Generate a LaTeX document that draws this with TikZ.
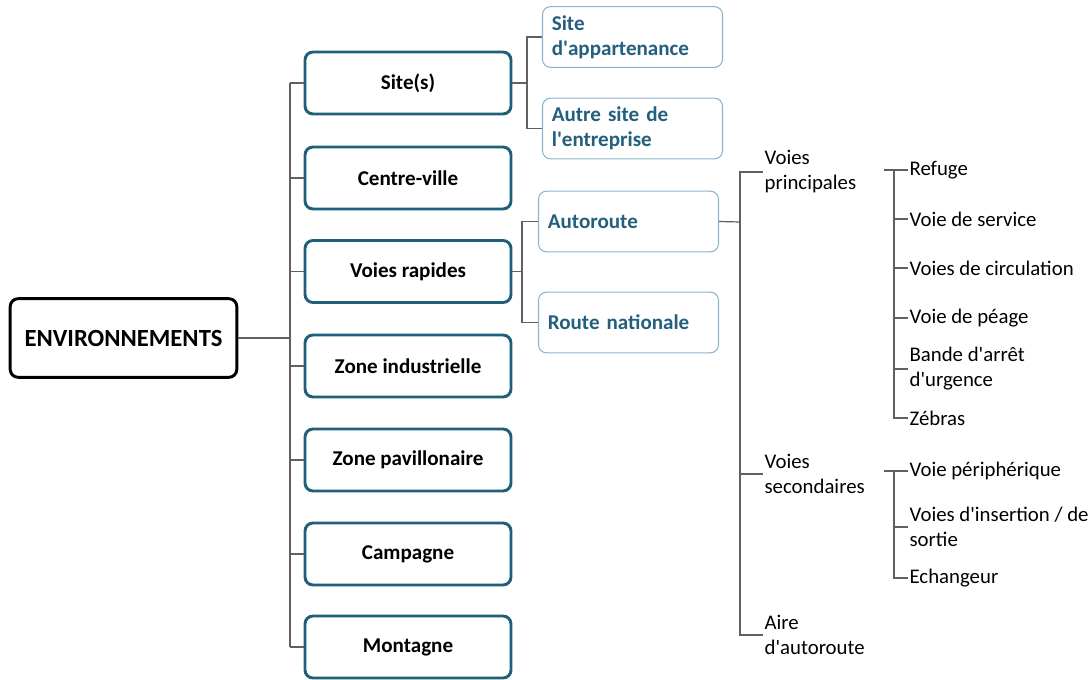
\documentclass[tikz,border=0pt]{standalone}
\usepackage{fontspec}
\setmainfont{Carlito}
\usetikzlibrary{calc}

\definecolor{teal1}{HTML}{1F5F7A}
\definecolor{teal2}{HTML}{8DB4C8}
\definecolor{txt2}{HTML}{24607E}
\definecolor{lin}{HTML}{606060}
\newcommand{\ap}{\textquotesingle}

\tikzset{
  envbox/.style={draw=black,line width=2.2pt,rounded corners=6pt,fill=white,
    minimum width=170pt,minimum height=59pt,font=\fontsize{18.5}{22}\selectfont\bfseries},
  lvlone/.style={draw=teal1,line width=2.2pt,rounded corners=6pt,fill=white,
    minimum width=154.5pt,minimum height=46.5pt,font=\fontsize{15.8}{19}\selectfont\bfseries},
  lvltwo/.style={draw=teal2,line width=0.8pt,rounded corners=6pt,fill=white,text=txt2,
    text width=121pt,inner xsep=7pt,minimum height=45.5pt,align=left,
    font=\fontsize{15.8}{18.75}\selectfont\bfseries},
  leaf/.style={anchor=west,align=left,inner sep=1pt,font=\fontsize{15.6}{18.75}\selectfont},
  cnx/.style={draw=lin,line width=0.9pt}
}

\begin{document}
\begin{tikzpicture}[x=0.75pt,y=-0.75pt]
 \useasboundingbox (0,0) rectangle (1092,680);
 % root and first level
 \node[envbox] (env) at (123.5,338) {ENVIRONNEMENTS};
 \node[lvlone] (site) at (408,83) {Site(s)};
 \node[lvlone] (ville) at (408,178) {Centre-ville};
 \node[lvlone] (rapid) at (408,271.5) {Voies rapides};
 \node[lvlone] (indus) at (408,366) {Zone industrielle};
 \node[lvlone] (pavil) at (408,460) {Zone pavillonaire};
 \node[lvlone] (camp) at (408,554) {Campagne};
 \node[lvlone] (mont) at (408,647) {Montagne};
 \coordinate (tr) at (290,338);
 \draw[cnx] (env.east) -- (env.east -| tr);
 \draw[cnx] (site.west -| tr) -- (mont.west -| tr);
 \foreach \n in {site,ville,rapid,indus,pavil,camp,mont}
   \draw[cnx] (\n.west) -- (\n.west -| tr);

 % second level
 \node[lvltwo] (appart) at (632.5,37) {Site\\d\ap appartenance};
 \node[lvltwo] (autre) at (632.5,128.5) {Autre site de\\l\ap entreprise};
 \node[lvltwo] (auto) at (628.5,221.5) {Autoroute};
 \node[lvltwo] (rn) at (628.5,322.5) {Route nationale};
 \coordinate (ts) at (527,83);
 \coordinate (tv) at (522,271);
 \draw[cnx] (site.east) -- (site.east -| ts);
 \draw[cnx] (appart.west) -| (ts) |- (autre.west);
 \draw[cnx] (rapid.east) -- (rapid.east -| tv);
 \draw[cnx] (auto.west) -| (tv) |- (rn.west);

 % autoroute
 \node[leaf] (vp) at (763,172) {Voies\\principales};
 \node[leaf] (vs) at (763,474) {Voies\\secondaires};
 \node[leaf] (aire) at (763,635) {Aire\\d\ap autoroute};
 \coordinate (ta) at (740,222);
 \draw[cnx] (auto.east) -- (ta);
 \draw[cnx] (vp.west) -- ++(-23,0) -- (aire.west -| ta) -- (aire.west);
 \draw[cnx] (vs.west) -- (vs.west -| ta);

 % voies principales
 \coordinate (vpo) at (884,170);
 \coordinate (tp) at (894,170);
 \node[leaf] (refu) at (908,170) {Refuge};
 \node[leaf] (serv) at (908,219) {Voie de service};
 \node[leaf] (circ) at (908,268) {Voies de circulation};
 \node[leaf] (peag) at (908,318) {Voie de péage};
 \node[leaf] (bau) at (908,369) {Bande d\ap arrêt\\d\ap urgence};
 \node[leaf] (zebr) at (908,418) {Zébras};
 \draw[cnx] (vpo) -- (refu.west);
 \draw[cnx] (tp) -- (zebr.west -| tp) -- (zebr.west);
 \foreach \n in {serv,circ,peag,bau}
   \draw[cnx] (\n.west) -- (\n.west -| tp);

 % voies secondaires
 \coordinate (vso) at (884,471);
 \coordinate (tq) at (894,471);
 \node[leaf] (peri) at (908,471) {Voie périphérique};
 \node[leaf] (insr) at (908,527) {Voies d\ap insertion / de\\sortie};
 \node[leaf] (echa) at (908,578) {Echangeur};
 \draw[cnx] (vso) -- (peri.west);
 \draw[cnx] (tq) -- (echa.west -| tq) -- (echa.west);
 \draw[cnx] (insr.west) -- (insr.west -| tq);
\end{tikzpicture}
\end{document}
